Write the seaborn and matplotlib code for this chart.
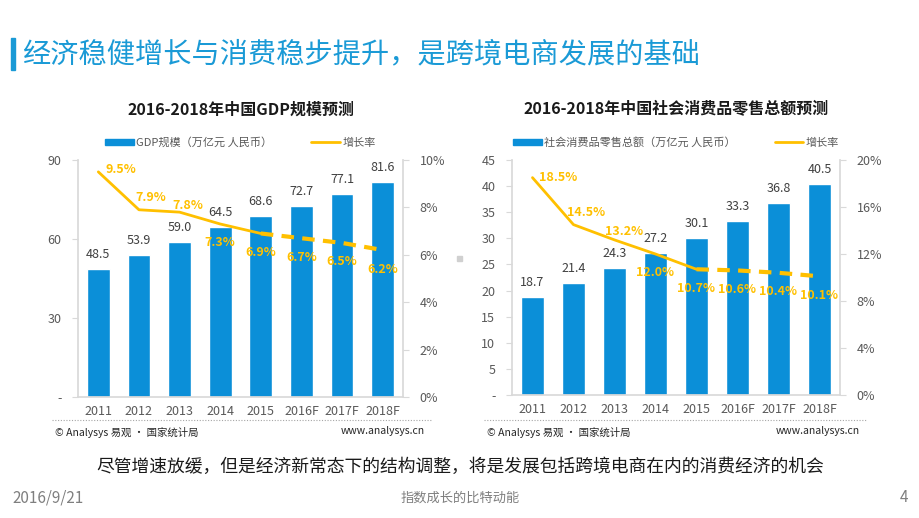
import numpy as np
import pandas as pd
import matplotlib
matplotlib.use("Agg")
import matplotlib.pyplot as plt
import seaborn as sns
from matplotlib.patches import Rectangle
from matplotlib.lines import Line2D
from matplotlib.ticker import FuncFormatter

sns.set_theme(style="white")
plt.rcParams['font.family'] = ['Noto Sans CJK SC', 'DejaVu Sans']

years = ["2011", "2012", "2013", "2014", "2015", "2016F", "2017F", "2018F"]
gdp = [48.5, 53.9, 59.0, 64.5, 68.6, 72.7, 77.1, 81.6]
gdp_growth = [9.5, 7.9, 7.8, 7.3, 6.9, 6.7, 6.5, 6.2]
retail = [18.7, 21.4, 24.3, 27.2, 30.1, 33.3, 36.8, 40.5]
retail_growth = [18.5, 14.5, 13.2, 12.0, 10.7, 10.6, 10.4, 10.1]

BAR = "#0B8FD8"
GOLD = "#FFC000"
GRID = "#D9D9D9"
TICK = "#595959"


def draw(ax, values, growth, bar_label, ymax, ystep, rmax, rstep, offsets, title):
    df = pd.DataFrame({"year": years, "value": values,
                       "growth": np.array(growth) / 100, "pos": np.arange(len(years))})
    sns.barplot(data=df, x="year", y="value", color=BAR, width=0.56,
                saturation=1, ax=ax)
    for i, v in enumerate(values):
        ax.annotate(f"{v:.1f}", (i, v), xytext=(0, 8), textcoords="offset pixels",
                    ha="center", va="bottom", fontsize=9, color="#404040")
    ax.set_ylim(0, ymax)
    ax.set_xlim(-0.5, len(years) - 0.5)
    ax.set_yticks(np.arange(0, ymax + 0.01, ystep))
    ax.yaxis.set_major_formatter(FuncFormatter(lambda v, p: "-" if v == 0 else f"{v:g}"))
    ax.set_xlabel("")
    ax.set_ylabel("")

    ax2 = ax.twinx()
    sns.lineplot(data=df.iloc[:5], x="pos", y="growth", color=GOLD, linewidth=2, ax=ax2)
    sns.lineplot(data=df.iloc[4:], x="pos", y="growth", color=GOLD, linewidth=3,
                 ax=ax2)
    ax2.lines[-1].set_dashes((3, 2))
    ax2.set_ylim(0, rmax)
    ax2.set_yticks(np.arange(0, rmax + 1e-9, rstep))
    ax2.yaxis.set_major_formatter(FuncFormatter(lambda v, p: f"{v * 100:.0f}%"))
    ax2.set_xlim(-0.5, len(years) - 0.5)
    ax2.set_xlabel("")
    ax2.set_ylabel("")
    for i, g in enumerate(growth):
        dx, dy, ha = offsets[i]
        ax2.annotate(f"{g:.1f}%", (i, g / 100), xytext=(dx, dy), textcoords="offset pixels",
                     ha=ha, va="center", fontsize=9, fontweight="bold", color=GOLD)

    for a in (ax, ax2):
        for s in a.spines.values():
            s.set_visible(False)
        a.tick_params(colors=TICK, labelsize=9, length=4, width=0.8)
        a.tick_params(axis="y", color=GRID)
    ax.spines["left"].set_visible(True)
    ax.spines["left"].set_color(GRID)
    ax.spines["bottom"].set_visible(True)
    ax.spines["bottom"].set_color(GRID)
    ax2.spines["right"].set_visible(True)
    ax2.spines["right"].set_color(GRID)
    ax.tick_params(axis="x", length=0, pad=6, labelsize=9)
    ax.tick_params(axis="y", pad=8)
    ax2.tick_params(axis="y", pad=8)

    handles = [Rectangle((0, 0), 1, 1, color=BAR),
               Line2D([0], [0], color=GOLD, linewidth=2)]
    ax.legend(handles, [bar_label, "增长率"], loc="lower center",
              bbox_to_anchor=(0.5, 1.01), ncol=2, frameon=False, fontsize=8,
              labelcolor="#595959", handlelength=2.6, handleheight=0.45,
              columnspacing=3.5, handletextpad=0.2)
    ax.set_title(title, fontsize=11.5, fontweight="bold", color="#1a1a1a", pad=33)


fig = plt.figure(figsize=(9.2, 5.18), dpi=100)
fig.patch.set_facecolor("white")

ax_l = fig.add_axes([0.0848, 0.2336, 0.3533, 0.4575])
ax_r = fig.add_axes([0.5565, 0.2375, 0.3565, 0.4536])

left_offsets = [(7, 2, "left"), (12, 12, "center"), (8, 7, "center"),
                (0, -19, "center"), (0, -19, "center"), (0, -19, "center"),
                (0, -19, "center"), (0, -19, "center")]
right_offsets = [(7, 0, "left"), (13, 12, "center"), (10, 8, "center"),
                 (0, -19, "center"), (0, -19, "center"), (0, -19, "center"),
                 (0, -19, "center"), (0, -19, "center")]

draw(ax_l, gdp, gdp_growth, "GDP规模（万亿元 人民币）", 90, 30, 0.10, 0.02,
     left_offsets, "2016-2018年中国GDP规模预测")
draw(ax_r, retail, retail_growth, "社会消费品零售总额（万亿元 人民币）", 45, 5, 0.20, 0.04,
     right_offsets, "2016-2018年中国社会消费品零售总额预测")

# header
fig.patches.append(Rectangle((11 / 920, 1 - 70 / 518), 4 / 920, 32 / 518,
                             transform=fig.transFigure, color="#1A9AD6"))
fig.text(22 / 920, 1 - 54 / 518, "经济稳健增长与消费稳步提升，是跨境电商发展的基础",
         fontsize=20.3, color="#1A9AD6", va="center", ha="left")

# dotted separators and sources
fig.add_artist(Line2D([52 / 920, 432 / 920], [1 - 420 / 518] * 2, transform=fig.transFigure,
                      color="#A6A6A6", linestyle=(0, (1, 1.5)), linewidth=0.8))
fig.add_artist(Line2D([484 / 920, 866 / 920], [1 - 420 / 518] * 2, transform=fig.transFigure,
                      color="#A6A6A6", linestyle=(0, (1, 1.5)), linewidth=0.8))
for x0, x1 in [(55, 425), (487, 860)]:
    fig.text(x0 / 920, 1 - 433 / 518, "© Analysys 易观 · 国家统计局", fontsize=7.5,
             color="#262626", va="center", ha="left")
    fig.text(x1 / 920, 1 - 431 / 518, "www.analysys.cn", fontsize=7.5,
             color="#262626", va="center", ha="right")

fig.patches.append(Rectangle((457 / 920, 1 - 261 / 518), 5 / 920, 5 / 518,
                             transform=fig.transFigure, color="#D0D0D0"))

fig.text(0.5, 1 - 467 / 518, "尽管增速放缓，但是经济新常态下的结构调整，将是发展包括跨境电商在内的消费经济的机会",
         fontsize=12.8, color="#1a1a1a", ha="center", va="center")
fig.text(12 / 920, 1 - 498 / 518, "2016/9/21", fontsize=11, color="#7F7F7F",
         ha="left", va="center")
fig.text(460 / 920, 1 - 498 / 518, "指数成长的比特动能", fontsize=9.5, color="#7F7F7F",
         ha="center", va="center")
fig.text(908 / 920, 1 - 498 / 518, "4", fontsize=11, color="#7F7F7F",
         ha="right", va="center")

fig.savefig("out.png", dpi=100)
